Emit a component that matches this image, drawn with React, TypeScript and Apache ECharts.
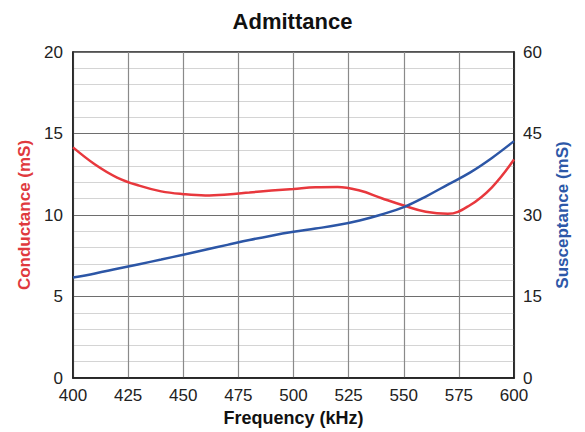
import React, { useEffect, useRef } from "react";
import * as echarts from "echarts";

const frequency = [400, 410, 420, 430, 440, 450, 460, 470, 480, 490, 500, 510, 520, 530, 540, 550, 560, 570, 580, 590, 600];
const conductance = [14.15, 13.1, 12.3, 11.8, 11.45, 11.28, 11.2, 11.26, 11.38, 11.5, 11.6, 11.7, 11.72, 11.5, 11.03, 10.58, 10.2, 10.07, 10.6, 11.7, 13.4];
const susceptance = [18.5, 19.25, 20.1, 20.95, 21.8, 22.7, 23.6, 24.5, 25.4, 26.2, 26.9, 27.5, 28.15, 29.0, 30.1, 31.45, 33.4, 35.6, 37.8, 40.5, 43.6];

const FONT = "Liberation Sans, Arial, sans-serif";

export default function App() {
  const ref = useRef<HTMLDivElement>(null);
  useEffect(() => {
    if (!ref.current) return;
    const chart = echarts.init(ref.current, undefined, { renderer: "svg" });
    chart.setOption({
      animation: false,
      backgroundColor: "#ffffff",
      textStyle: { fontFamily: FONT },
      title: {
        text: "Admittance",
        left: "center",
        top: 5,
        textStyle: { fontSize: 22, fontWeight: "bold", color: "#111", fontFamily: FONT },
      },
      grid: {
        left: 73,
        right: 71,
        top: 52,
        bottom: 48,
        show: true,
        borderColor: "#1a1a1a",
        borderWidth: 1.5,
        backgroundColor: "transparent",
      },
      xAxis: {
        type: "value",
        min: 400,
        max: 600,
        interval: 25,
        name: "Frequency (kHz)",
        nameLocation: "middle",
        nameGap: 31,
        nameTextStyle: { fontSize: 18, fontWeight: "bold", color: "#111", fontFamily: FONT },
        axisLine: { show: true, lineStyle: { color: "#1a1a1a", width: 1.5 } },
        axisTick: { show: false },
        axisLabel: { fontSize: 17, color: "#222", margin: 9, fontFamily: FONT },
        splitLine: { show: true, lineStyle: { color: "#8a8a8a", width: 1.2 } },
      },
      yAxis: [
        {
          type: "value",
          min: 0,
          max: 20,
          interval: 5,
          name: "Conductance (mS)",
          nameLocation: "middle",
          nameRotate: 90,
          nameGap: 37,
          nameTextStyle: { fontSize: 17, fontWeight: "bold", color: "#e0393e", fontFamily: FONT },
          axisLine: { show: true, lineStyle: { color: "#1a1a1a", width: 1.5 } },
          axisTick: { show: false },
          axisLabel: { fontSize: 17, color: "#222", margin: 10, fontFamily: FONT },
          splitLine: { show: true, lineStyle: { color: "#6e6e6e", width: 1.2 } },
          minorTick: { show: false, splitNumber: 5 },
          minorSplitLine: { show: true, lineStyle: { color: "#d4d4d4", width: 1 } },
        },
        {
          type: "value",
          min: 0,
          max: 60,
          interval: 15,
          name: "Susceptance (mS)",
          nameLocation: "middle",
          nameRotate: 90,
          nameGap: 40,
          nameTextStyle: { fontSize: 17, fontWeight: "bold", color: "#2d58a8", fontFamily: FONT },
          axisLine: { show: true, lineStyle: { color: "#1a1a1a", width: 1.5 } },
          axisTick: { show: false },
          axisLabel: { fontSize: 17, color: "#222", margin: 9, fontFamily: FONT },
          splitLine: { show: false },
        },
      ],
      series: [
        {
          type: "line",
          name: "Conductance",
          yAxisIndex: 0,
          smooth: 0.4,
          showSymbol: false,
          data: frequency.map((f, i) => [f, conductance[i]]),
          lineStyle: { color: "#e8383d", width: 2.5 },
          itemStyle: { color: "#e8383d" },
          z: 3,
        },
        {
          type: "line",
          name: "Susceptance",
          yAxisIndex: 1,
          smooth: 0.4,
          showSymbol: false,
          data: frequency.map((f, i) => [f, susceptance[i]]),
          lineStyle: { color: "#2c56a6", width: 2.5 },
          itemStyle: { color: "#2c56a6" },
          z: 4,
        },
      ],
    });
    return () => chart.dispose();
  }, []);
  return <div ref={ref} style={{ width: 585, height: 432, position: "absolute", left: 0, top: 0 }} />;
}
